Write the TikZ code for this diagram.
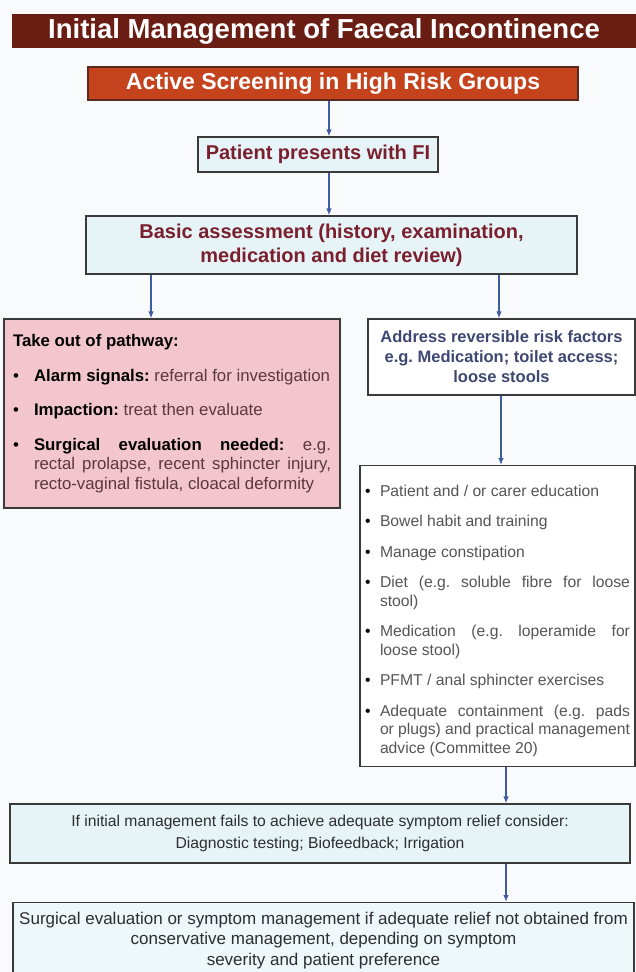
\documentclass[tikz,border=0pt]{standalone}
\usepackage{fontspec}
\setmainfont{Liberation Sans}
\usetikzlibrary{arrows.meta}
\frenchspacing
\definecolor{titlebg}{HTML}{6A1D12}
\definecolor{activebg}{HTML}{C4431D}
\definecolor{activeline}{HTML}{5A2A1E}
\definecolor{lightblue}{HTML}{E7F4F7}
\definecolor{lightblueB}{HTML}{EEF7F9}
\definecolor{pinkbg}{HTML}{F3C6CD}
\definecolor{maroon}{HTML}{7A1F2D}
\definecolor{arrowblue}{HTML}{3F5C9E}
\definecolor{boxline}{HTML}{3A3A3A}
\definecolor{graytext}{HTML}{555555}
\definecolor{darktext}{HTML}{2E2E2E}
\definecolor{slatetext}{HTML}{3E4772}
\definecolor{pinktext}{HTML}{5A383E}
\definecolor{pagebg}{HTML}{F9FAFB}
\newcommand{\bitem}[2]{\par\hangindent=#1\hangafter=1\noindent\makebox[#1][l]{\textcolor{black}{\textbullet}}#2\par}
\begin{document}
\begin{tikzpicture}[x=1pt,y=-1pt,
  box/.style={draw=boxline,line width=1.1pt,inner sep=0pt},
  arr/.style={draw=arrowblue,line width=1.6pt,-{Latex[length=7pt,width=5.5pt]}}]
\useasboundingbox (0,0) rectangle (636,972);
\fill[pagebg] (0,0) rectangle (636,972);

\node[fill=titlebg, minimum width=624pt, minimum height=34pt, inner sep=0pt,
  text=white, font=\fontsize{27.5}{30}\selectfont\bfseries] (title) at (324,31)
  {Initial Management of Faecal Incontinence};

\node[box, draw=activeline, fill=activebg, minimum width=490pt, minimum height=33pt,
  text=white, font=\fontsize{23}{26}\selectfont\bfseries] (active) at (333,83.5)
  {Active Screening in High Risk Groups};

\node[box, fill=lightblue, minimum width=240pt, minimum height=35pt, text=maroon,
  font=\fontsize{20}{23}\selectfont\bfseries] (patient) at (318,154.5)
  {Patient presents with FI};

\node[box, fill=lightblue, minimum width=491pt, minimum height=58pt, text=maroon,
  align=center, font=\fontsize{20}{24}\selectfont\bfseries] (basic) at (331.5,245)
  {Basic assessment (history, examination,\\ medication and diet review)};

\node[box, fill=pinkbg, minimum width=336pt, minimum height=189pt, text width=318pt,
  align=justify, text=pinktext, font=\fontsize{16.8}{19.5}\selectfont] (pink) at (172,413.5)
  {\setlength{\parskip}{15pt}\hyphenpenalty=10000
   \noindent\textcolor{black}{\bfseries Take out of pathway:}\par
   \bitem{21pt}{\textcolor{black}{\bfseries Alarm signals:} referral for investigation}
   \bitem{21pt}{\textcolor{black}{\bfseries Impaction:} treat then evaluate}
   \bitem{21pt}{\textcolor{black}{\bfseries Surgical evaluation needed:} e.g.\linebreak
     rectal prolapse, recent sphincter injury,\linebreak
     recto-vaginal fistula, cloacal deformity}};

\node[box, fill=white, minimum width=267pt, minimum height=76pt, align=center,
  text=slatetext, font=\fontsize{16.5}{20}\selectfont\bfseries] (risk) at (501.5,357)
  {Address reversible risk factors\\ e.g. Medication; toilet access;\\ loose stools};

\node[box, fill=white, minimum width=275pt, minimum height=300pt, text width=265pt,
  align=justify, text=graytext, font=\fontsize{15.7}{18.5}\selectfont] (list) at (497.5,616)
  {\setlength{\parskip}{12pt}\hyphenpenalty=10000
   \bitem{15pt}{Patient and / or carer education}
   \bitem{15pt}{Bowel habit and training}
   \bitem{15pt}{Manage constipation}
   \bitem{15pt}{Diet (e.g. soluble fibre for loose\linebreak stool)}
   \bitem{15pt}{Medication (e.g. loperamide for\linebreak loose stool)}
   \bitem{15pt}{PFMT / anal sphincter exercises}
   \bitem{15pt}{Adequate containment (e.g. pads\linebreak or plugs) and practical management\linebreak advice (Committee 20)}
   \vspace{10pt}};

\node[box, fill=lightblue, minimum width=620pt, minimum height=59pt, align=center,
  text=darktext, font=\fontsize{15.7}{21.5}\selectfont] (fail) at (320,833.5)
  {If initial management fails to achieve adequate symptom relief consider:\\
   Diagnostic testing; Biofeedback; Irrigation};

\node[box, fill=lightblueB, minimum width=621pt, minimum height=76pt, align=center,
  anchor=north, text=darktext, font=\fontsize{17}{20.5}\selectfont] (final) at (323.5,902)
  {Surgical evaluation or symptom management if adequate relief not obtained from\\
   conservative management, depending on symptom\\
   severity and patient preference};

\coordinate (xa) at (329,0);
\coordinate (xl) at (151,0);
\coordinate (xr) at (499,0);
\coordinate (xs) at (501,0);
\coordinate (xb) at (506,0);
\draw[arr] (active.south -| xa) -- (patient.north -| xa);
\draw[arr] (patient.south -| xa) -- (basic.north -| xa);
\draw[arr] (basic.south -| xl) -- (pink.north -| xl);
\draw[arr] (basic.south -| xr) -- (risk.north -| xr);
\draw[arr] (risk.south -| xs) -- (list.north -| xs);
\draw[arr] (list.south -| xb) -- (fail.north -| xb);
\draw[arr] (fail.south -| xb) -- (final.north -| xb);
\end{tikzpicture}
\end{document}
